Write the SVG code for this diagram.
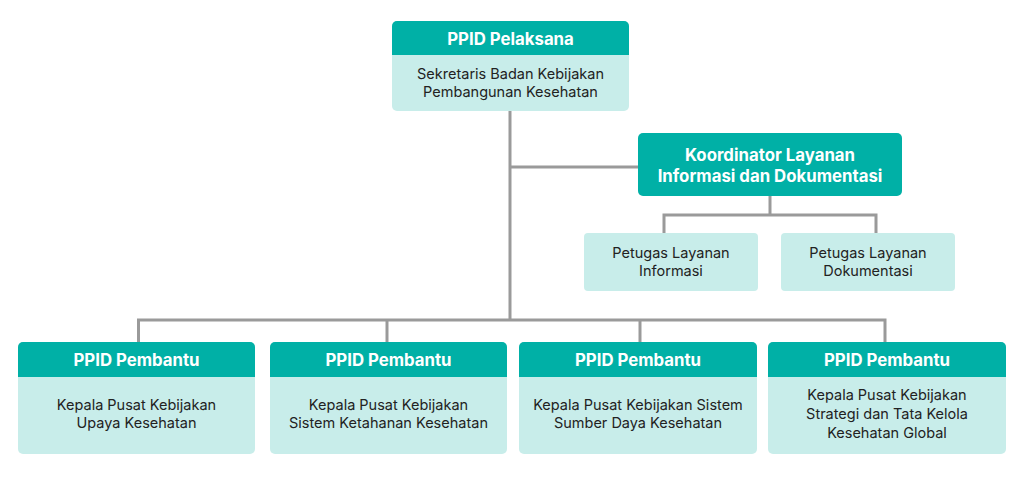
<svg xmlns="http://www.w3.org/2000/svg" width="1024" height="494" viewBox="0 0 1024 494">
<style>
.hd{fill:#00B0A6}
.bd{fill:#C8EDEA}
.ht{font-family:Inter,"Liberation Sans",sans-serif;font-weight:700;font-size:16.8px;fill:#fff;text-anchor:middle}
.bt{font-family:Inter,"Liberation Sans",sans-serif;font-size:14.5px;fill:#222;text-anchor:middle}
.ln{fill:none;stroke:#9A9A9A;stroke-width:3}
</style>
<rect width="1024" height="494" fill="#fff"/>
<g id="connectors">
<path class="ln" d="M510 111V320"/>
<path class="ln" d="M510 167H638"/>
<path class="ln" d="M138.5 342V320H885V342"/>
<path class="ln" d="M387 320V342"/>
<path class="ln" d="M640 320V342"/>
<path class="ln" d="M770 196V215"/>
<path class="ln" d="M664 233V215H876V233"/>
</g>
<g id="ppid-pelaksana">
<rect class="bd" x="392" y="21" width="237" height="90" rx="5"/>
<path class="hd" d="M392 55V26a5 5 0 0 1 5-5h227a5 5 0 0 1 5 5v29z"/>
<text class="ht" x="510.5" y="45">PPID Pelaksana</text>
<text class="bt" x="510.5" y="79">Sekretaris Badan Kebijakan</text>
<text class="bt" x="510.5" y="97">Pembangunan Kesehatan</text>
</g>
<g id="koordinator">
<rect class="hd" x="638" y="133" width="264" height="63" rx="5"/>
<text class="ht" x="770" y="161">Koordinator Layanan</text>
<text class="ht" x="770" y="182">Informasi dan Dokumentasi</text>
</g>
<g id="petugas-informasi">
<rect class="bd" x="584" y="233" width="174" height="58" rx="4"/>
<text class="bt" x="671" y="258">Petugas Layanan</text>
<text class="bt" x="671" y="276">Informasi</text>
</g>
<g id="petugas-dokumentasi">
<rect class="bd" x="781" y="233" width="174" height="58" rx="4"/>
<text class="bt" x="868" y="258">Petugas Layanan</text>
<text class="bt" x="868" y="276">Dokumentasi</text>
</g>
<g id="pembantu-1">
<rect class="bd" x="18" y="342" width="237" height="112" rx="5"/>
<path class="hd" d="M18 377V347a5 5 0 0 1 5-5h227a5 5 0 0 1 5 5v30z"/>
<text class="ht" x="136.5" y="366">PPID Pembantu</text>
<text class="bt" x="136.5" y="410">Kepala Pusat Kebijakan</text>
<text class="bt" x="136.5" y="428">Upaya Kesehatan</text>
</g>
<g id="pembantu-2">
<rect class="bd" x="270" y="342" width="237" height="112" rx="5"/>
<path class="hd" d="M270 377V347a5 5 0 0 1 5-5h227a5 5 0 0 1 5 5v30z"/>
<text class="ht" x="388.5" y="366">PPID Pembantu</text>
<text class="bt" x="388.5" y="410">Kepala Pusat Kebijakan</text>
<text class="bt" x="388.5" y="428">Sistem Ketahanan Kesehatan</text>
</g>
<g id="pembantu-3">
<rect class="bd" x="519" y="342" width="238" height="112" rx="5"/>
<path class="hd" d="M519 377V347a5 5 0 0 1 5-5h228a5 5 0 0 1 5 5v30z"/>
<text class="ht" x="638" y="366">PPID Pembantu</text>
<text class="bt" x="638" y="410">Kepala Pusat Kebijakan Sistem</text>
<text class="bt" x="638" y="428">Sumber Daya Kesehatan</text>
</g>
<g id="pembantu-4">
<rect class="bd" x="768" y="342" width="238" height="112" rx="5"/>
<path class="hd" d="M768 377V347a5 5 0 0 1 5-5h228a5 5 0 0 1 5 5v30z"/>
<text class="ht" x="887" y="366">PPID Pembantu</text>
<text class="bt" x="887" y="400">Kepala Pusat Kebijakan</text>
<text class="bt" x="887" y="419">Strategi dan Tata Kelola</text>
<text class="bt" x="887" y="438">Kesehatan Global</text>
</g>
</svg>
